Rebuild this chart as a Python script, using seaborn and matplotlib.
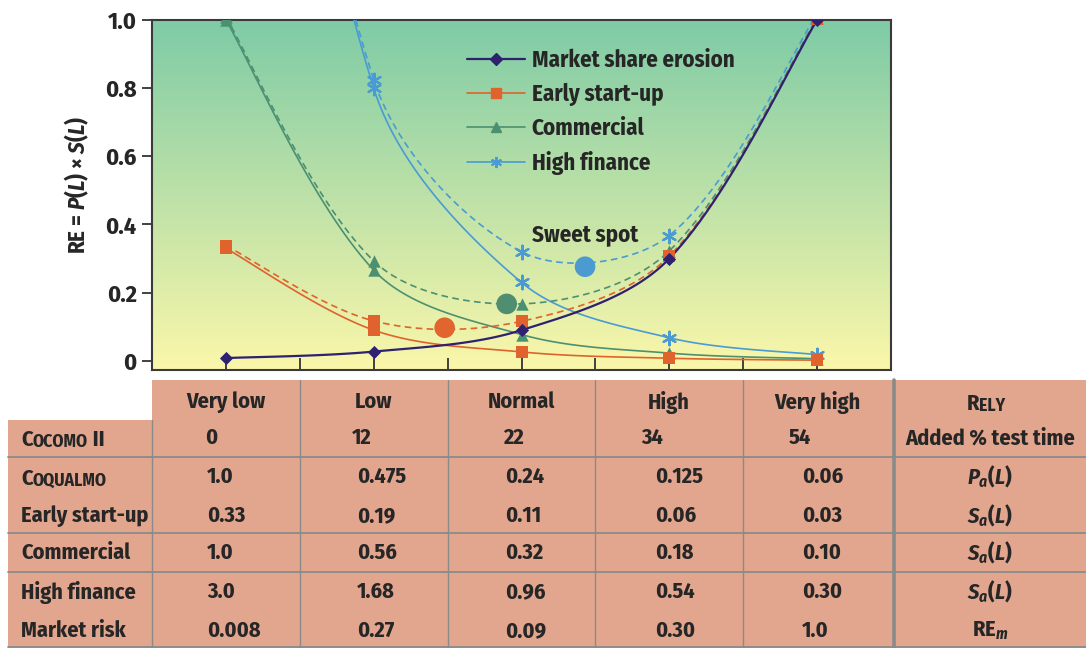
import numpy as np
import matplotlib
matplotlib.use("Agg")
import matplotlib.pyplot as plt
import seaborn as sns
from matplotlib import font_manager as fm
from matplotlib.lines import Line2D
from matplotlib.patches import Rectangle
from matplotlib.colors import to_rgb

# ---- table data ----
levels = ["Very low", "Low", "Normal", "High", "Very high"]
added_test_time = ["0", "12", "22", "34", "54"]
coqualmo_pa = ["1.0", "0.475", "0.24", "0.125", "0.06"]
early_sa = ["0.33", "0.19", "0.11", "0.06", "0.03"]
commercial_sa = ["1.0", "0.56", "0.32", "0.18", "0.10"]
finance_sa = ["3.0", "1.68", "0.96", "0.54", "0.30"]
market_risk = ["0.008", "0.27", "0.09", "0.30", "1.0"]

# ---- plotted risk exposure ----
level_pos = [0, 1, 2, 3, 4]
re_market = [0.008, 0.027, 0.09, 0.30, 1.0]
re_early = [0.33, 0.09, 0.026, 0.0075, 0.0018]
re_early_total = [0.338, 0.117, 0.116, 0.3075, 1.0018]
re_commercial = [1.0, 0.266, 0.077, 0.0225, 0.006]
re_commercial_total = [1.008, 0.293, 0.167, 0.3225, 1.006]
re_finance = [3.0, 0.80, 0.23, 0.0675, 0.018]
re_finance_total = [3.008, 0.825, 0.32, 0.3675, 1.018]

sweet_names = ["Early start-up", "Commercial", "High finance"]
sweet_x = [1.48, 1.90, 2.43]
sweet_y = [0.097, 0.167, 0.276]

yticks = [0, 0.2, 0.4, 0.6, 0.8, 1.0]
ytick_labels = ["0", "0.2", "0.4", "0.6", "0.8", "1.0"]

c_market = "#2d2170"
c_early = "#e0622c"
c_comm = "#4c9072"
c_fin = "#4a9bd3"
sweet_colors = ["#e0652e", "#4f8e70", "#4b9bd0"]
txt_c = "#262626"
cell_c = "#e2a68e"
grid_c = "#8a8a8a"

sns.set_style("white")

# pick a narrow bold face if there is one, else Liberation Sans a bit smaller
fonts = fm.fontManager.ttflist


def has_italic(name):
    return any(f.name == name and f.style in ("italic", "oblique") for f in fonts)


names = sorted({f.name for f in fonts})
narrow = [n for n in names if ("Narrow" in n or "Condensed" in n) and "Sans" in n]
narrow.sort(key=lambda n: (not has_italic(n), n))
if narrow:
    face, fs, fs_small = narrow[0], 16, 12.7
else:
    face, fs, fs_small = "Liberation Sans", 14.5, 11.5
it_face = face if has_italic(face) else "Liberation Sans"
plt.rcParams["font.family"] = [face, "DejaVu Sans"]
plt.rcParams["font.weight"] = "bold"
plt.rcParams["axes.labelweight"] = "bold"
plt.rcParams["mathtext.fontset"] = "custom"
plt.rcParams["mathtext.rm"] = face + ":bold"
plt.rcParams["mathtext.it"] = it_face + ":italic:bold"
plt.rcParams["mathtext.bf"] = face + ":bold"


def smooth(xs, ys, steps=30, yscale=341 / 148, k=1 / 3):
    # excel-style smoothed line: bezier through the points, done in screen proportions
    p = np.column_stack([np.asarray(xs, float), np.asarray(ys, float) * yscale])
    n = len(p)
    cin, cout = p.copy(), p.copy()
    for i in range(1, n - 1):
        d0 = np.linalg.norm(p[i] - p[i - 1])
        d1 = np.linalg.norm(p[i + 1] - p[i])
        tv = p[i + 1] - p[i - 1]
        cin[i] = p[i] - tv * k * d0 / (d0 + d1)
        cout[i] = p[i] + tv * k * d1 / (d0 + d1)
    cout[0] = p[0] + (p[1] - p[0]) / 6
    cin[-1] = p[-1] - (p[-1] - p[-2]) / 6
    t = np.linspace(0, 1, steps, endpoint=False)[:, None]
    segs = []
    for i in range(n - 1):
        b = ((1 - t) ** 3 * p[i] + 3 * (1 - t) ** 2 * t * cout[i]
             + 3 * (1 - t) * t ** 2 * cin[i + 1] + t ** 3 * p[i + 1])
        segs.append(b)
    segs.append(p[-1:])
    out = np.vstack(segs)
    return out[:, 0], out[:, 1] / yscale


W, H = 1086, 648
fig = plt.figure(figsize=(W / 100, H / 100), dpi=100)
ax = fig.add_axes([152 / W, 1 - 370 / H, 739 / W, 350 / H])

# gradient background
top, bot = np.array(to_rgb("#7ecba6")), np.array(to_rgb("#fbf7aa"))
f = np.linspace(0, 1, 256)[:, None]
grad = (top * (1 - f) + bot * f)[:, None, :]
ax.imshow(grad, extent=(0, 1, 0, 1), transform=ax.transAxes, aspect="auto", zorder=0)

dash = (0, (4, 2.6))
series = [
    (re_finance, re_finance_total, c_fin, (6, 2, 0), 95),
    (re_commercial, re_commercial_total, c_comm, "^", 80),
    (re_early, re_early_total, c_early, "s", 70),
]
for solid, total, col, mk, size in series:
    sx, sy = smooth(level_pos, solid)
    sns.lineplot(x=sx, y=sy, sort=False, estimator=None, color=col, linewidth=1.2, ax=ax, zorder=3)
    sx, sy = smooth(level_pos, total)
    sns.lineplot(x=sx, y=sy, sort=False, estimator=None, color=col, linewidth=1.2,
                 linestyle=dash, ax=ax, zorder=3)

sx, sy = smooth(level_pos, re_market)
sns.lineplot(x=sx, y=sy, sort=False, estimator=None, color=c_market, linewidth=1.6, ax=ax, zorder=3)

for solid, total, col, mk, size in series:
    for vals in (solid, total):
        sns.scatterplot(x=level_pos, y=vals, marker=mk, s=size, color=col, edgecolor=col,
                        linewidth=1.6 if mk == (6, 2, 0) else 0, ax=ax, zorder=4)
sns.scatterplot(x=level_pos, y=re_market, marker="D", s=45, color=c_market, linewidth=0, ax=ax, zorder=4)

sns.scatterplot(x=sweet_x, y=sweet_y, hue=sweet_names, palette=sweet_colors, s=220,
                linewidth=0, legend=False, ax=ax, zorder=5)
ax.text(2.43, 0.37, "Sweet spot", fontsize=fs + 0.5, color=txt_c, ha="center", va="center")

ax.set_xlim(-0.5, 4.5)
ax.set_ylim(-0.027, 1.0)
ax.set_xticks(np.arange(0, 4.01, 0.5))
ax.set_xticklabels([])
ax.set_yticks(yticks)
ax.set_yticklabels(ytick_labels)
ax.tick_params(axis="x", direction="in", length=9, width=1.3, color="#333333", bottom=True)
ax.tick_params(axis="y", direction="out", length=7, width=1.3, color="#333333", left=True,
               labelsize=fs + 1.5, labelcolor=txt_c, pad=4)
for sp in ax.spines.values():
    sp.set_visible(True)
    sp.set_color("#3a3a3a")
    sp.set_linewidth(1.5)
ax.set_xlabel("")
ax.set_ylabel("RE = $P(L)$ × $S(L)$", fontsize=fs + 0.5, color=txt_c)
ax.yaxis.set_label_coords(-0.082, 0.53)

handles = [
    Line2D([], [], color=c_market, lw=1.6, marker="D", markersize=6, label="Market share erosion"),
    Line2D([], [], color=c_early, lw=1.2, marker="s", markersize=7, label="Early start-up"),
    Line2D([], [], color=c_comm, lw=1.2, marker="^", markersize=7, label="Commercial"),
    Line2D([], [], color=c_fin, lw=1.2, marker=(6, 2, 0), markersize=8, markeredgewidth=1.4,
           label="High finance"),
]
lfs = fs + 0.5
leg = ax.legend(handles=handles, loc="upper left", bbox_to_anchor=(0.426, 0.919), frameon=False,
                fontsize=lfs, handlelength=41.8 / lfs, handletextpad=0.3,
                labelspacing=(24.8 - 1.17 * lfs) / lfs + 0.16, borderpad=0, borderaxespad=0)
for t in leg.get_texts():
    t.set_color(txt_c)

# ---- table below ----
tab = fig.add_axes([0, 0, 1, 1], zorder=-1)
tab.set_xlim(0, W)
tab.set_ylim(H, 0)
tab.axis("off")

tab.add_patch(Rectangle((152, 380), W - 152, 268, color=cell_c, lw=0))
tab.add_patch(Rectangle((8, 420), 146, 228, color=cell_c, lw=0))
for y in [457, 533, 572, 647]:
    tab.plot([8, W], [y, y], color=grid_c, lw=1.3)
for x in [152, 300, 448, 595, 743]:
    tab.plot([x, x], [380 if x > 152 else 420, 648], color=grid_c, lw=1.0)
tab.plot([894, 894], [380, 648], color=grid_c, lw=2.6)

col_centers = [226, 374, 521, 669, 817]
cocomo_left = [205, 352, 503, 641, 789]
value_left = [207, 357, 505, 655, 802]


def smallcaps(x, y, parts):
    prev = None
    for txt, size in parts:
        if prev is None:
            prev = tab.text(x, y, txt, fontsize=size, color=txt_c, ha="left", va="baseline")
        else:
            prev = tab.annotate(txt, xy=(1, 0), xycoords=prev, fontsize=size, color=txt_c,
                                ha="left", va="bottom")
    return prev


for cx, lab in zip(col_centers, levels):
    tab.text(cx, 402, lab, fontsize=fs, color=txt_c, ha="center", va="center")
for lx, lab in zip(cocomo_left, added_test_time):
    tab.text(lx, 438, lab, fontsize=fs, color=txt_c, ha="left", va="center")

rows = [
    (477, None, coqualmo_pa, "$P_a(L)$"),
    (516, "Early start-up", early_sa, "$S_a(L)$"),
    (553, "Commercial", commercial_sa, "$S_a(L)$"),
    (592, "High finance", finance_sa, "$S_a(L)$"),
    (631, "Market risk", market_risk, r"$\mathrm{RE}_m$"),
]
for y, name, vals, unit in rows:
    if name:
        tab.text(21, y, name, fontsize=fs, color=txt_c, ha="left", va="center")
    for lx, v in zip(value_left, vals):
        tab.text(lx, y, v, fontsize=fs, color=txt_c, ha="left", va="center")
    tab.text(990, y, unit, fontsize=fs, color=txt_c, ha="center", va="center")

cap = fs * 1.389 * 0.36
smallcaps(21, 438 + cap, [("C", fs), ("OCOMO", fs_small), (" II", fs)])
smallcaps(21, 477 + cap, [("C", fs), ("OQUALMO", fs_small)])
smallcaps(967, 402 + cap, [("R", fs), ("ELY", fs_small)])
tab.text(990, 438, "Added % test time", fontsize=fs, color=txt_c, ha="center", va="center")

fig.savefig("out.png", dpi=100)
